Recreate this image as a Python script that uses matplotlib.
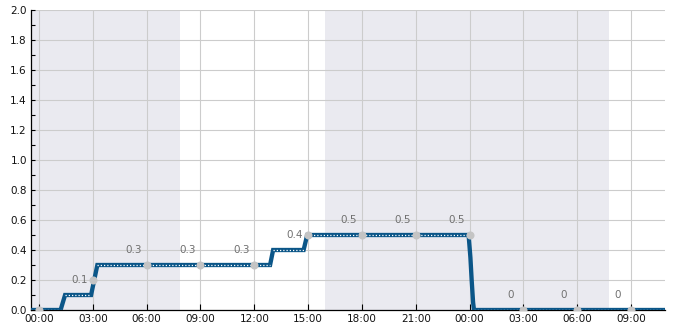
import numpy as np
import matplotlib
matplotlib.use('Agg')
import matplotlib.pyplot as plt
from matplotlib.ticker import MultipleLocator, FuncFormatter

# step line (hours since first midnight -> value)
step_hours = [-0.45, 1.2, 1.45, 2.9, 3.25, 12.88, 13.05, 14.75, 14.95,
              23.95, 24.05, 24.12, 24.2, 24.25, 34.9]
step_values = [0, 0, 0.1, 0.1, 0.3, 0.3, 0.4, 0.4, 0.5,
               0.5, 0.35, 0.2, 0.05, 0, 0]

# sampled points every 3 hours with their labels
point_hours = [0, 3, 6, 9, 12, 15, 18, 21, 24, 27, 30, 33]
point_values = [0, 0.2, 0.3, 0.3, 0.3, 0.5, 0.5, 0.5, 0.5, 0, 0, 0]
point_labels = ["", "0.1", "0.3", "0.3", "0.3", "0.4", "0.5", "0.5", "0.5", "0", "0", "0"]

# night shading (start, end) in hours
shade_spans = [(-0.45, 7.85), (15.95, 31.8)]

fig = plt.figure(figsize=(6.85, 3.30), dpi=100)
ax = fig.add_axes([31 / 685, 20 / 330, 634 / 685, 300 / 330])

for start, end in shade_spans:
    ax.axvspan(start, end, color='#eaeaf0', lw=0, zorder=0)

ax.grid(True, color='#cccccc', lw=0.8, zorder=1)
ax.set_axisbelow(True)

line_color = '#0b5688'
ax.plot(step_hours, step_values, color=line_color, lw=3.1, solid_capstyle='butt',
        solid_joinstyle='miter', zorder=3)

# white dotted centre only on the flat parts
for i in range(len(step_hours) - 1):
    if step_values[i] == step_values[i + 1]:
        ax.plot(step_hours[i:i + 2], step_values[i:i + 2], color='white', lw=0.9,
                linestyle=(0, (1, 1.6)), zorder=4)

ax.plot(point_hours, point_values, 'o', color='#c4c4c4', ms=5.8, mec='none', zorder=5)

for h, v, lab in zip(point_hours, point_values, point_labels):
    if not lab:
        continue
    dy = 0 if lab in ("0.1", "0.4") else 15
    ax.annotate(lab, (h, v), xytext=(-13, dy), textcoords='offset pixels',
                ha='center', va='center', fontsize=7.5, color='#707070', zorder=6)

ax.set_xlim(-0.45, 34.9)
ax.set_ylim(0, 2.0)
ax.xaxis.set_major_locator(MultipleLocator(3))
ax.xaxis.set_major_formatter(FuncFormatter(lambda x, p: "%02d:00" % (int(round(x)) % 24)))
ax.yaxis.set_major_locator(MultipleLocator(0.2))
ax.yaxis.set_minor_locator(MultipleLocator(0.1))
ax.yaxis.set_major_formatter(FuncFormatter(lambda y, p: "%.1f" % y))

ax.tick_params(axis='both', which='both', direction='in', labelsize=7.5,
               labelcolor='#111111', color='black', width=0.8)
ax.tick_params(axis='x', length=4, pad=3)
ax.tick_params(axis='y', which='major', length=3, pad=3)
ax.tick_params(axis='y', which='minor', length=3)

for s in ['top', 'right']:
    ax.spines[s].set_visible(False)
for s in ['left', 'bottom']:
    ax.spines[s].set_color('black')
    ax.spines[s].set_linewidth(0.9)

fig.savefig('out.png', dpi=100)
